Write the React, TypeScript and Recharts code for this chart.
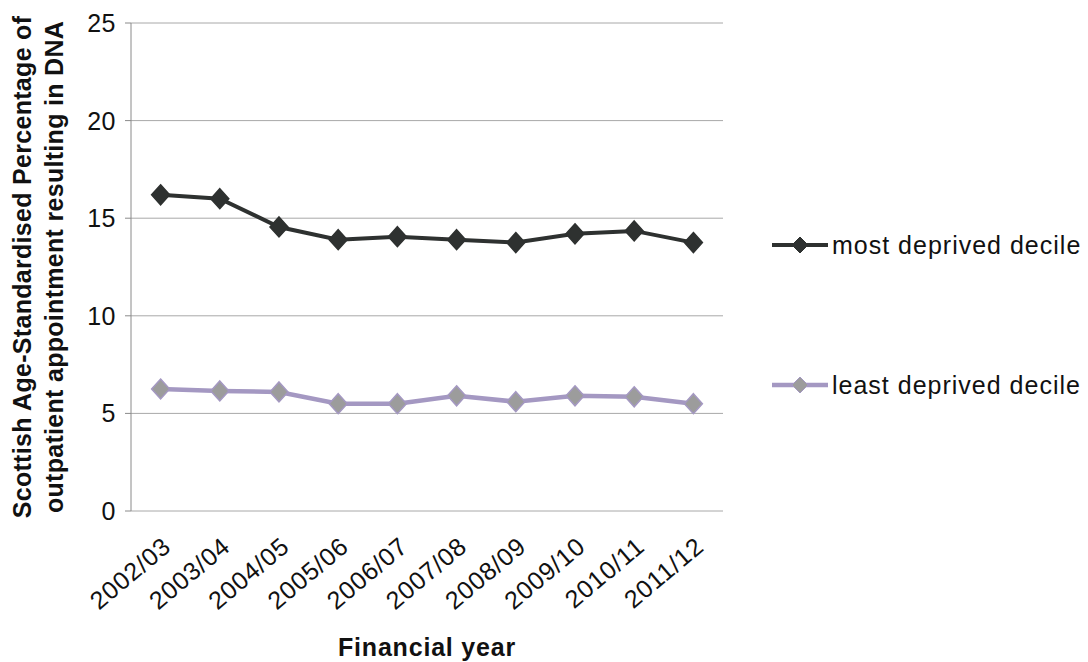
import React from 'react';
import { LineChart, Line, XAxis, YAxis, CartesianGrid, Label } from 'recharts';

const years = ['2002/03', '2003/04', '2004/05', '2005/06', '2006/07', '2007/08', '2008/09', '2009/10', '2010/11', '2011/12'];
const mostDeprived = [16.2, 16.0, 14.55, 13.9, 14.05, 13.9, 13.75, 14.2, 14.35, 13.75];
const leastDeprived = [6.25, 6.15, 6.1, 5.5, 5.5, 5.9, 5.6, 5.9, 5.85, 5.5];
const yTicks = [0, 5, 10, 15, 20, 25];

// category i sits in the middle of the band [i, i + 1]
const boundaryTicks = years.map((_, i) => i).concat(years.length);
const centreTicks = years.map((_, i) => i + 0.5);

const DARK = '#2e3130';
const LAVENDER = '#a498c2';
const GREY_MARKER = '#9c9c9c';
const GRID = '#a8a8a8';
const AXIS = '#8a8a8a';
const FONT = '"Liberation Sans", Arial, sans-serif';

const data = years.map((year, i) => ({
  year,
  pos: i + 0.5,
  most: mostDeprived[i],
  least: leastDeprived[i],
}));

const series = [
  { key: 'most', name: 'most deprived decile', stroke: DARK, fill: DARK, markerStroke: DARK, width: 4 },
  { key: 'least', name: 'least deprived decile', stroke: LAVENDER, fill: GREY_MARKER, markerStroke: LAVENDER, width: 4.5 },
];

const diamond = (fill: string, stroke: string) => (props: any) => {
  const { cx, cy, index } = props;
  if (cx == null || cy == null) return <g key={index} />;
  const w = 9;
  const h = 10;
  return (
    <polygon
      key={index}
      points={`${cx},${cy - h} ${cx + w},${cy} ${cx},${cy + h} ${cx - w},${cy}`}
      fill={fill}
      stroke={stroke}
      strokeWidth={1.5}
    />
  );
};

const YTick = ({ x, y, payload }: any) => (
  <text x={x - 7} y={y + 9} textAnchor="end" fontSize={25} letterSpacing={0.5} fontFamily={FONT} fill="#111">
    {payload.value}
  </text>
);

const XTick = ({ x, y, payload }: any) => (
  <text
    transform={`translate(${x + 12},${y + 30}) rotate(-40)`}
    textAnchor="end"
    fontSize={25}
    letterSpacing={0.8}
    fontFamily={FONT}
    fill="#111"
  >
    {years[Math.floor(payload.value)]}
  </text>
);

const YTitle = ({ viewBox }: any) => {
  const cy = viewBox.y + viewBox.height / 2;
  return (
    <g fontFamily={FONT} fontWeight="bold" fontSize={25} letterSpacing={0.3} fill="#111" textAnchor="middle">
      <text transform={`translate(31,${cy}) rotate(-90)`}>Scottish Age-Standardised Percentage of</text>
      <text transform={`translate(63,${cy}) rotate(-90)`}>outpatient appointment resulting in DNA</text>
    </g>
  );
};

const XTitle = ({ viewBox }: any) => (
  <text
    x={viewBox.x + viewBox.width / 2}
    y={656}
    textAnchor="middle"
    fontFamily={FONT}
    fontWeight="bold"
    fontSize={25}
    letterSpacing={0.8}
    fill="#111"
  >
    Financial year
  </text>
);

const LegendBox = () => (
  <svg width={330} height={200} style={{ position: 'absolute', left: 760, top: 220 }}>
    {series.map((s, i) => {
      const y = 25 + i * 140;
      return (
        <g key={s.key}>
          <line x1={12} x2={68} y1={y} y2={y} stroke={s.stroke} strokeWidth={s.width} />
          <polygon points={`40,${y - 8} 48,${y} 40,${y + 8} 32,${y}`} fill={s.fill} stroke={s.markerStroke} strokeWidth={1} />
          <text x={72} y={y + 9} fontSize={25} letterSpacing={1} fontFamily={FONT} fill="#111">
            {s.name}
          </text>
        </g>
      );
    })}
  </svg>
);

export default function App() {
  return (
    <div style={{ position: 'absolute', left: 0, top: 0, width: 1088, height: 662, background: '#fff' }}>
      <LineChart width={1088} height={662} data={data} margin={{ top: 23, right: 365, bottom: 0, left: 0 }}>
        <CartesianGrid horizontal vertical={false} stroke={GRID} strokeWidth={1} />
        <YAxis
          type="number"
          domain={[0, 25]}
          ticks={yTicks}
          width={131}
          axisLine={{ stroke: AXIS }}
          tickLine={{ stroke: AXIS }}
          tickSize={6}
          tick={<YTick />}
        >
          <Label content={<YTitle />} />
        </YAxis>
        <XAxis
          xAxisId="frame"
          dataKey="pos"
          type="number"
          domain={[0, years.length]}
          ticks={boundaryTicks}
          height={0}
          axisLine={{ stroke: AXIS }}
          tickLine={{ stroke: AXIS }}
          tickSize={6}
          tick={false}
        />
        <XAxis
          xAxisId="labels"
          dataKey="pos"
          type="number"
          domain={[0, years.length]}
          ticks={centreTicks}
          height={151}
          axisLine={false}
          tickLine={false}
          interval={0}
          tick={<XTick />}
        >
          <Label content={<XTitle />} />
        </XAxis>
        {series.map((s) => (
          <Line
            key={s.key}
            xAxisId="frame"
            dataKey={s.key}
            name={s.name}
            stroke={s.stroke}
            strokeWidth={s.width}
            dot={diamond(s.fill, s.markerStroke)}
            activeDot={false}
            isAnimationActive={false}
          />
        ))}
      </LineChart>
      <LegendBox />
    </div>
  );
}
